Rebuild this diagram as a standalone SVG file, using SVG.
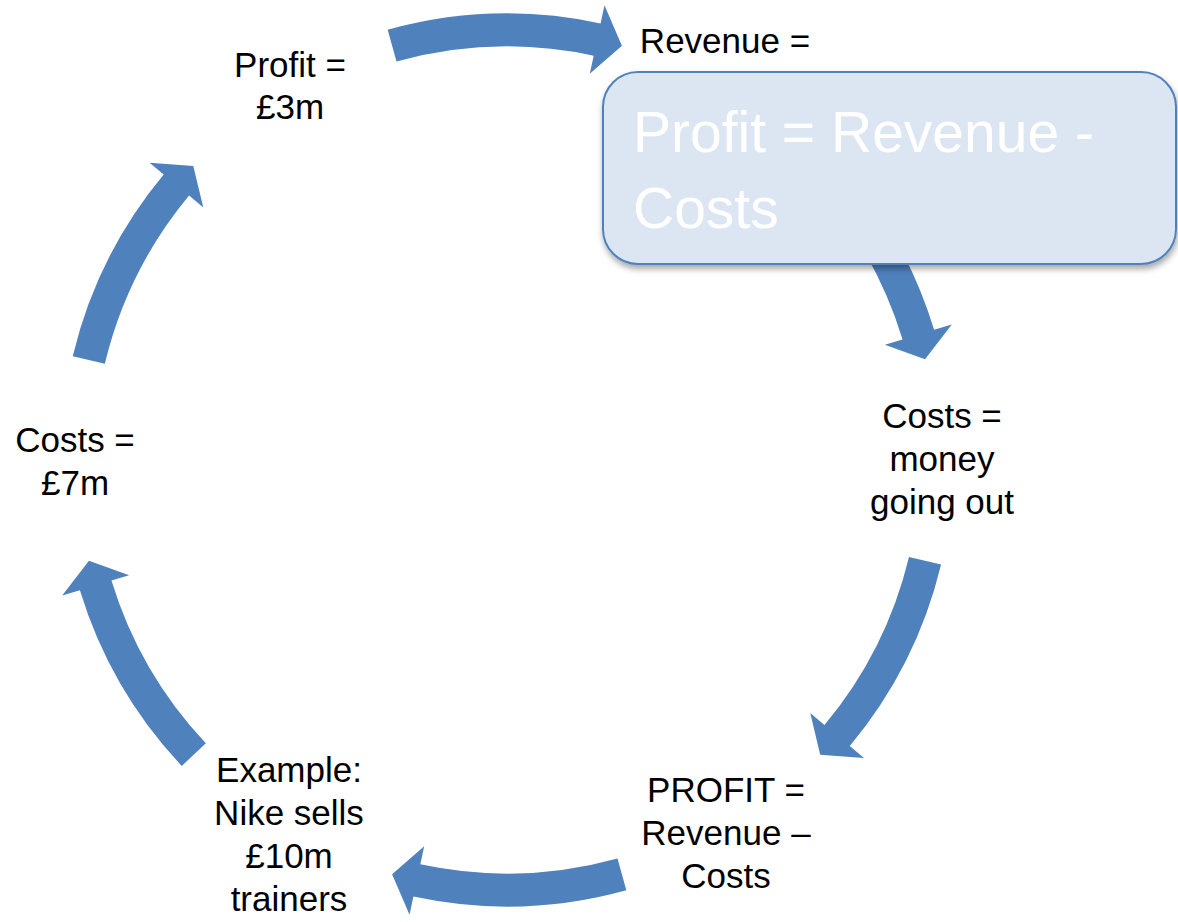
<svg xmlns="http://www.w3.org/2000/svg" width="1178" height="922" viewBox="0 0 1178 922">
  <style>
    .arrow { fill: #4f81bd; }
    .label { font-family: "Liberation Sans", Arial, sans-serif; font-size: 35px; fill: #000000; text-anchor: middle; }
    .callout-box { fill: #dce6f2; stroke: #4f81bd; stroke-width: 2; }
    .callout-text { font-family: "Liberation Sans", Arial, sans-serif; font-size: 57px; fill: #ffffff; }
  </style>
  <defs>
    <!-- curved block arrow segments, drawn around the origin, pointing clockwise -->
    <path id="arcA" d="M430.26,-119.32 A446.5,446.5 0 0 1 436.58,93.60 L454.67,97.47 L414.36,114.91 L386.22,82.80 L404.31,86.68 A413.5,413.5 0 0 0 398.46,-110.50 Z"/>
    <path id="arcB" d="M431.59,-114.43 A446.5,446.5 0 0 1 437.61,88.64 L455.75,92.32 L415.64,110.20 L387.14,78.42 L405.27,82.09 A413.5,413.5 0 0 0 399.69,-105.98 Z"/>
    <filter id="softShadow" x="-10%" y="-10%" width="120%" height="130%">
      <feDropShadow dx="1" dy="4" stdDeviation="3" flood-color="#000000" flood-opacity="0.35"/>
    </filter>
  </defs>

  <!-- cycle connectors -->
  <g id="connectors" class="arrow">
    <use href="#arcA" transform="translate(507 460) rotate(-90)"/>
    <use href="#arcB" transform="translate(507 460) rotate(-28.4)"/>
    <use href="#arcB" transform="translate(507 460) rotate(28.4)"/>
    <use href="#arcA" transform="translate(507 460) rotate(90)"/>
    <use href="#arcB" transform="translate(507 460) rotate(151.6)"/>
    <use href="#arcB" transform="translate(507 460) rotate(208.3)"/>
  </g>

  <g id="node-profit">
    <text class="label" x="290" y="77">Profit =</text>
    <text class="label" x="290" y="119">£3m</text>
  </g>

  <g id="node-revenue">
    <text class="label" x="725" y="53">Revenue =</text>
  </g>

  <g id="node-costs-out">
    <text class="label" x="942" y="428">Costs =</text>
    <text class="label" x="942" y="471">money</text>
    <text class="label" x="942" y="514">going out</text>
  </g>

  <g id="node-profit-formula">
    <text class="label" x="726" y="802">PROFIT =</text>
    <text class="label" x="726" y="845">Revenue –</text>
    <text class="label" x="726" y="888">Costs</text>
  </g>

  <g id="node-example">
    <text class="label" x="289" y="782">Example:</text>
    <text class="label" x="289" y="825">Nike sells</text>
    <text class="label" x="289" y="868">£10m</text>
    <text class="label" x="289" y="911">trainers</text>
  </g>

  <g id="node-costs">
    <text class="label" x="75" y="452">Costs =</text>
    <text class="label" x="75" y="495">£7m</text>
  </g>

  <!-- formula callout -->
  <g id="node-formula-callout">
    <rect class="callout-box" x="603" y="72" width="573" height="192" rx="35" ry="35" filter="url(#softShadow)"/>
    <text class="callout-text" x="633" y="152">Profit = Revenue -</text>
    <text class="callout-text" x="633" y="228">Costs</text>
  </g>
</svg>
